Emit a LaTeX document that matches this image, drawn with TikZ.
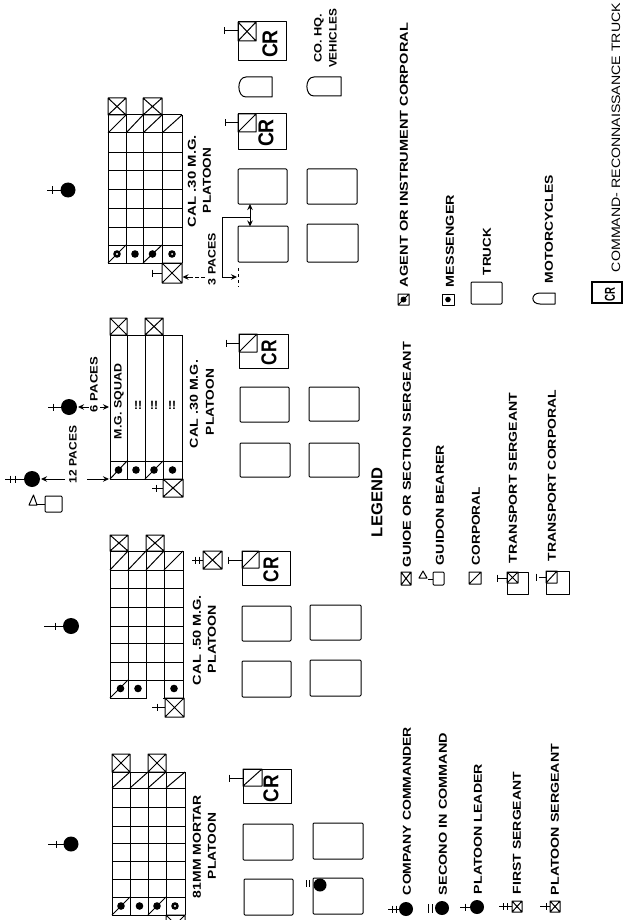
\documentclass[tikz,border=0pt]{standalone}
\usepackage{fontspec}
\setmainfont{Liberation Sans}
\usetikzlibrary{arrows.meta}
\tikzset{
  ln/.style={line width=1pt,black,line join=round},
  lbl/.style={rotate=90,anchor=west,inner sep=0pt,outer sep=0pt,text=black},
  arr/.style={ln,-{Stealth[length=6pt,width=5.5pt]}},
  dashline/.style={line width=0.9pt,dash pattern=on 3pt off 3pt}
}
\newcount\labc
\newcommand\lab[5]{\global\advance\labc by 1
  \pgfmathsetlengthmacro\labw{#2-#3}%
  \node[lbl] (t\the\labc) at (#1,#2) {\resizebox{\labw}{#4pt}{\bfseries #5}};}
\newcommand\xb[4]{\draw[ln] (#1,#2) rectangle (#3,#4) (#1,#2)--(#3,#4) (#1,#4)--(#3,#2);}
\newcommand\db[4]{\draw[ln] (#1,#2) rectangle (#3,#4) (#1,#4)--(#3,#2);}
\newcommand\truck[4]{\draw[ln,rounded corners=1pt] (#1,#2) rectangle (#3,#4);}
\newcommand\moto[4]{\draw[ln] (#1+8,#2) .. controls (#1-1.5,#2) and (#1-1.5,#4) .. (#1+8,#4) -- (#3,#4) -- (#3,#2) -- cycle;}
\newcommand\tic[3]{\draw[ln] (#1,#3)--(#2,#3);}
\newcommand\crs[2]{\draw[ln] (#1,#2-3.5)--(#1,#2+3.5);}
\newcommand\man[3]{\fill (#1,#2) circle (#3);}
\newcommand\pgrid[6]{%
  \foreach \gx in {#5} \draw[ln] (\gx,#3)--(\gx,#4);
  \foreach \gy in {#6} \draw[ln] (#1,\gy)--(#2,\gy);}
\newcommand\cell[4]{\draw[ln] (#1,#4)--(#3,#2);}
\begin{document}
\begin{tikzpicture}[x=1pt,y=-1pt]
\clip (0,0) rectangle (624,920);
\fill[white] (0,0) rectangle (624,920);

%%% GRID A: top CAL .30 platoon
\pgrid{108}{182}{115}{263}{108,126,143,162,182}{115,133,153,171,189,208,227,245,263}
\xb{108}{98}{126}{115}\xb{143}{98}{162}{115}
\cell{108}{115}{126}{133}\cell{126}{115}{143}{133}\cell{143}{115}{162}{133}\cell{162}{115}{182}{133}
\cell{108}{245}{126}{263}\cell{143}{245}{162}{263}
\man{117}{254}{3.8}\man{135}{254}{3.8}\man{152.5}{254}{3.8}\man{172}{254}{3.8}
\fill[white] (117,254) circle (1.2) (172,254) circle (1);
\xb{162}{263}{182}{283}\tic{152}{162}{273}\crs{152}{273}
\man{68}{190}{7.5}\tic{47}{62}{190}\crs{52}{190}
\lab{192}{227}{135}{8}{CAL .30 M.G.}
\lab{207}{213}{148}{8}{PLATOON}
\lab{212}{285}{233}{7.5}{3 PACES}

\draw[ln] (238,22) rectangle (286,61);\xb{238}{22}{256}{41}\tic{224}{238}{31}\crs{224}{31}
\lab{270}{58}{30}{15}{CR}
\moto{238}{77}{272}{97}
\draw[ln] (238,114) rectangle (286,150);\db{238}{114}{256}{132}\tic{225}{238}{123}\crs{225}{123}
\lab{266}{147}{119}{15}{CR}
\truck{238}{169}{287}{204}
\truck{238}{226}{288}{262}
\truck{307}{169}{357}{204}
\truck{307}{224}{358}{262}
\moto{306}{77}{341}{96}
\lab{319}{63}{14}{7.5}{CO. HQ.}
\lab{333}{68}{9}{7.5}{VEHICLES}

% pace arrows
\draw[arr] (250,216)--(250,204);
\draw[arr] (250,216)--(250,226.5);
\draw[ln] (250,217)--(222,217)--(222,277);
\draw[arr] (222,277)--(237,277);
\draw[dashline] (238,268)--(238,287);
\draw[ln,dash pattern=on 4pt off 2pt] (205,277)--(190,277);
\draw[arr] (190,277)--(182.5,277);

%%% GRID B: second CAL .30 platoon
\pgrid{110}{182}{335}{479}{110,127,145,163,182}{335,461,479}
\xb{110}{318}{127}{335}\xb{145}{318}{163}{335}
\cell{110}{461}{127}{479}\cell{145}{461}{163}{479}
\man{118.5}{470}{3.8}\man{136}{470}{3.8}\man{154}{470}{3.8}\man{172.5}{470}{3.8}
\xb{163}{479}{183}{497}\tic{152}{163}{488}\crs{156}{488}
\man{69}{407}{8}\tic{48}{62}{407}\crs{53}{407}
\draw[arr] (89,407)--(78,407);
\draw[arr] (100,407)--(109,407);
\lab{94}{412}{357}{7.5}{6 PACES}
\lab{119}{439}{364}{7.5}{M.G. SQUAD}
\node[inner sep=0pt] (d1) at (138,405) {\bfseries\large !!};
\node[inner sep=0pt] (d2) at (154,405) {\bfseries\large !!};
\node[inner sep=0pt] (d3) at (172,405) {\bfseries\large !!};
\lab{194}{448}{360}{8}{CAL .30 M.G.}
\lab{210}{435}{369}{8}{PLATOON}
\man{32}{479}{8}\tic{5}{24}{479}\crs{10}{479}\crs{15}{479}
\draw[arr] (65,479)--(41,479);
\draw[arr] (87,479)--(109,479);
\lab{73}{483}{426}{7.5}{12 PACES}
\truck{45}{496}{62}{512}
\draw[ln] (45,504)--(36,504);
\draw[ln] (29,505)--(33.5,495)--(37,505)--cycle;

\draw[ln] (239,334) rectangle (288,368);\db{239}{334}{257}{352}\tic{226}{239}{343}\crs{226}{343}
\lab{269}{365}{340}{15}{CR}
\truck{240}{387}{289}{422}
\truck{240}{443}{290}{477}
\truck{309}{387}{359}{421}
\truck{309}{443}{359}{477}

%%% GRID C: CAL .50 platoon
\pgrid{110}{183}{551}{698}{110,128,146,164,183}{551,570,588,607,626,643,662,680,698}
\fill[white] (146.6,680.6) rectangle (163.4,699.5);
\xb{110}{535}{128}{551}\xb{146}{535}{164}{551}
\cell{110}{551}{128}{570}\cell{128}{551}{146}{570}\cell{146}{551}{164}{570}\cell{164}{551}{183}{570}
\cell{110}{680}{128}{698}
\man{120.5}{688.5}{3.8}\man{138}{688.5}{3.8}\man{174}{688.5}{3.8}
\xb{165}{698}{184}{717}\tic{152}{165}{707}\crs{157}{707}
\man{71}{626}{8}\tic{44}{63}{626}\crs{55}{626}
\xb{203}{551}{222}{569}\tic{192}{203}{560}\crs{195.5}{560}\crs{199.5}{560}
\lab{197}{685}{595}{8}{CAL .50 M.G.}
\lab{212}{673}{605}{8}{PLATOON}
\draw[ln] (242,551) rectangle (290,585);\db{242}{551}{259}{568}\tic{228}{242}{560}\crs{228}{560}
\lab{271}{582}{557}{15}{CR}
\truck{242}{606}{291}{641}
\truck{242}{661}{291}{697}
\truck{310}{605}{361}{640}
\truck{310}{660}{361}{696}

%%% GRID D: 81 mm mortar platoon
\pgrid{112}{185}{772}{915}{112,130,148,166,185}{772,788,807,826,843,861,879,897,915}
\xb{112}{754}{130}{772}\xb{148}{754}{166}{772}
\cell{112}{772}{130}{788}\cell{130}{772}{148}{788}\cell{148}{772}{166}{788}\cell{166}{772}{185}{788}
\cell{112}{897}{130}{915}\cell{148}{897}{166}{915}
\man{121}{906}{3.8}\man{139.5}{906}{3.8}\man{157}{906}{3.8}\man{175}{906}{3.8}
\fill[white] (175,906) circle (1.1);
\xb{166}{915}{185}{934}
\man{71}{844}{7.5}\tic{48}{64}{844}\crs{56}{844}
\lab{197}{898}{795}{8}{81MM MORTAR}
\lab{212}{879}{813}{8}{PLATOON}
\draw[ln] (243,769) rectangle (291,803);\db{243}{769}{262}{786}\tic{229}{243}{778}\crs{229}{778}
\lab{271}{802}{775}{15}{CR}
\truck{243}{824}{293}{860}
\truck{244}{879}{293}{915}
\truck{313}{823}{363}{859}
\truck{313}{878}{363}{914}
\man{320}{885}{6.5}
\draw[ln] (306,880)--(306,887) (309.5,880)--(309.5,887);

%%% LEGEND
\lab{377}{537}{468}{11}{LEGEND}
% column 1
\man{406}{909}{7}\tic{388}{400}{909}\crs{392}{909}\crs{396}{909}
\lab{407}{895}{727}{8}{COMPANY COMMANDER}
\man{442}{908}{7}\draw[ln] (428,904)--(428,913) (432,904)--(432,913);
\lab{443}{895}{733}{8}{SECONO IN COMMAND}
\man{477}{907}{7}\tic{460}{471}{907}\crs{465}{907}
\lab{478}{894}{764}{8}{PLATOON LEADER}
\xb{512}{901}{522}{912}\tic{499}{512}{906.5}\crs{503}{906.5}\crs{507}{906.5}
\lab{517}{894}{772}{8}{FIRST SERGEANT}
\xb{550}{901}{560}{912}\tic{540}{550}{906.5}\crs{546}{906.5}
\lab{555}{895}{744}{8}{PLATOON SERGEANT}
% column 2
\xb{401}{572}{411}{585}
\lab{407}{567}{342}{8}{GUIOE OR SECTION SERGEANT}
\truck{433}{572}{444}{585}
\draw[ln] (433,579)--(428,579);
\draw[ln] (419,578)--(423,571)--(427,578)--cycle;
\lab{440}{565}{445}{8}{GUIDON BEARER}
\db{469}{572}{481}{584}
\lab{476}{565}{487}{8}{CORPORAL}
\draw[ln] (507,572) rectangle (528,594);\xb{507}{572}{518}{583}\tic{497}{507}{578}\crs{497}{578}
\lab{513}{563}{393}{8}{TRANSPORT SERGEANT}
\draw[ln] (546,571) rectangle (569,594);\db{546}{571}{557}{583}\tic{539}{546}{577}\crs{536}{577}
\lab{552}{561}{390}{8}{TRANSPORT CORPORAL}
% column 3
\db{398}{294}{409}{305}\man{403.5}{299.5}{3}
\lab{404}{287}{23}{8}{AGENT OR INSTRUMENT CORPORAL}
\draw[ln] (442,294) rectangle (454,305);\man{448}{299.5}{2.8}
\lab{450}{287}{195}{8}{MESSENGER}
\truck{471}{282}{502}{304}
\lab{487}{275}{228}{8}{TRUCK}
\moto{532}{293}{555}{304}
\lab{549}{283}{175}{8}{MOTORCYCLES}
\draw[line width=1.3pt] (592,282) rectangle (622,303);
\lab{610}{301}{287}{10}{CR}
\lab{616}{272}{3}{8.5}{\mdseries COMMAND- RECONNAISSANCE TRUCK}
\end{tikzpicture}
\end{document}
